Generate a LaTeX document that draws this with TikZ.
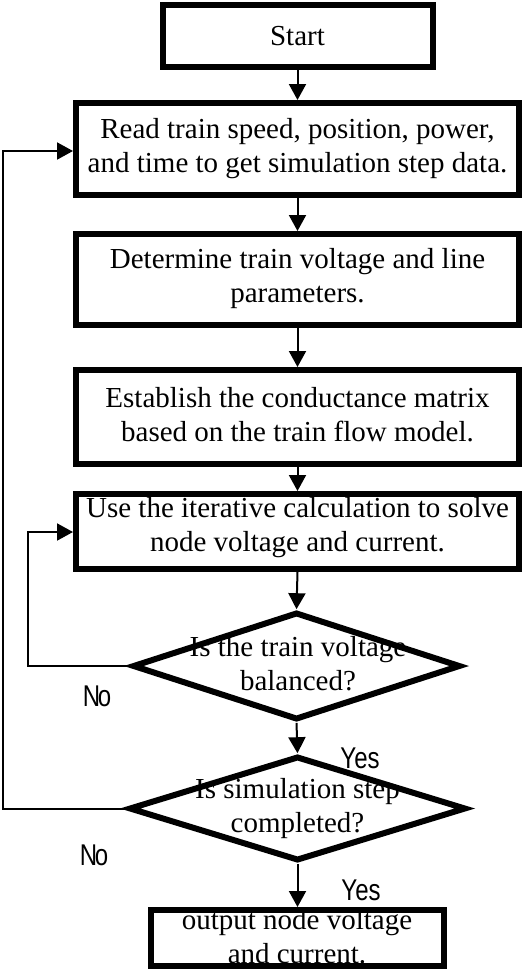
\documentclass[tikz,border=0pt]{standalone}
\usepackage{graphicx}
\usepackage{fontspec}
\setmainfont{Liberation Serif}
\newfontfamily\labfont{Liberation Sans}
\usetikzlibrary{shapes.geometric,arrows.meta}
\begin{document}
\begin{tikzpicture}[x=1pt,y=-1pt,
  box/.style={draw, line width=6pt, rectangle, inner sep=0pt},
  dia/.style={draw, diamond, line width=6pt, inner sep=0pt},
  txt/.style={align=center, font=\fontsize{29}{34}\selectfont, inner sep=0pt,
    execute at begin node=\strut, execute at end node=\strut},
  lab/.style={font=\labfont\fontsize{30}{34}\selectfont, inner sep=0pt, anchor=base},
  arr/.style={-{Triangle[length=16pt,width=17pt]}, line width=2pt}]
\useasboundingbox (0,0) rectangle (525,975);
\fill[white] (0,0) rectangle (525,975);

% boxes
\node[box, minimum width=270pt, minimum height=62pt] (b1) at (297.5,36) {};
\node[box, minimum width=443pt, minimum height=92pt] (b2) at (297.5,149) {};
\node[box, minimum width=443pt, minimum height=91pt] (b3) at (297.5,279.5) {};
\node[box, minimum width=443pt, minimum height=94pt] (b4) at (297.5,417) {};
\node[box, minimum width=443pt, minimum height=75pt] (b5) at (297.5,531.5) {};
\node[dia, minimum width=328pt, minimum height=107.6pt] (d1) at (296.5,666) {};
\node[dia, minimum width=337pt, minimum height=104.6pt] (d2) at (297.5,808.5) {};
\node[box, minimum width=293pt, minimum height=56pt] (b6) at (297.5,938) {};

% texts
\node[txt] (t1) at (297.5,39) {Start};
\node[txt] (t2) at (297.5,151) {Read train speed, position, power,\\and time to get simulation step data.};
\node[txt] (t3) at (297.5,281) {Determine train voltage and line\\parameters.};
\node[txt] (t4) at (297.5,419.5) {Establish the conductance matrix\\based on the train flow model.};
\node[txt] (t5) at (297.5,530) {Use the iterative calculation to solve\\node voltage and current.};
\node[txt] (t6) at (298,668.5) {Is the train voltage\\balanced?};
\node[txt] (t7) at (297.5,811) {Is simulation step\\completed?};
\node[txt] (t8) at (297,941.5) {output node voltage\\and current.};

% labels
\node[lab] (n1) at (97,706) {\scalebox{0.8}[1]{N\kern-0.1em o}};
\node[lab] (n2) at (94,865) {\scalebox{0.8}[1]{N\kern-0.1em o}};
\node[lab] (y1) at (360,768) {\scalebox{0.8}[1]{Yes}};
\node[lab] (y2) at (361,900) {\scalebox{0.8}[1]{Yes}};

% connectors
\draw[arr] (b1.south) -- (b2.north);
\draw[arr] (b2.south) -- (b3.north);
\draw[arr] (b3.south) -- (b4.north);
\draw[arr] (b4.south) -- (b5.north);
\draw[arr] (b5.south) -- (d1.north);
\draw[arr] (d1.south) -- (d2.north);
\draw[arr] (d2.south) -- (b6.north);

\coordinate (fbA) at (3,151);
\coordinate (fbB) at (28,532);
\draw[arr] (d2.west) -| (fbA) -- (fbA -| b2.west);
\draw[arr] (d1.west) -| (fbB) -- (fbB -| b5.west);
\end{tikzpicture}
\end{document}
